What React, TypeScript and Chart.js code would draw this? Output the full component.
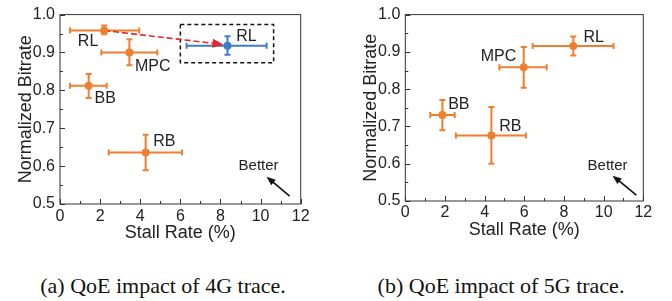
import React, { useEffect, useRef } from 'react';
import { Chart, registerables } from 'chart.js';

Chart.register(...registerables);

// ---------- data ----------
const methods = ['RL', 'MPC', 'BB', 'RB'];

// (a) 4G trace
const stall4G = [2.2, 3.46, 1.43, 4.27];
const stall4GLow = [0.5, 2.06, 0.5, 2.43];
const stall4GHigh = [3.95, 4.85, 2.33, 6.08];
const bitrate4G = [0.958, 0.9, 0.812, 0.636];
const bitrate4GLow = [0.948, 0.866, 0.78, 0.589];
const bitrate4GHigh = [0.971, 0.935, 0.843, 0.683];

// improved RL on 4G (blue)
const stallRLNew = [8.35];
const stallRLNewLow = [6.31];
const stallRLNewHigh = [10.3];
const bitrateRLNew = [0.918];
const bitrateRLNewLow = [0.894];
const bitrateRLNewHigh = [0.943];

// (b) 5G trace
const stall5G = [8.47, 5.97, 1.87, 4.34];
const stall5GLow = [6.42, 4.74, 1.26, 2.55];
const stall5GHigh = [10.5, 7.13, 2.49, 6.08];
const bitrate5G = [0.916, 0.859, 0.731, 0.676];
const bitrate5GLow = [0.89, 0.804, 0.69, 0.6];
const bitrate5GHigh = [0.941, 0.913, 0.771, 0.752];

const xTicks = [0, 2, 4, 6, 8, 10, 12];
const yTicks = [0.5, 0.6, 0.7, 0.8, 0.9, 1.0];

const captions = ['(a) QoE impact of 4G trace.', '(b) QoE impact of 5G trace.'];

// annotation anchors in data units
const labels4G = [
  { text: 'RL', x: 1.4, y: 0.93 },
  { text: 'MPC', x: 4.62, y: 0.864 },
  { text: 'BB', x: 2.25, y: 0.777 },
  { text: 'RB', x: 5.2, y: 0.664 },
  { text: 'RL', x: 9.3, y: 0.941 },
];
const labels5G = [
  { text: 'RL', x: 9.5, y: 0.938 },
  { text: 'MPC', x: 4.7, y: 0.888 },
  { text: 'BB', x: 2.7, y: 0.758 },
  { text: 'RB', x: 5.3, y: 0.7 },
];

const ORANGE = '#EF7F2F';
const BLUE = '#3A7DC8';
const RED = '#E3262B';
const TEXT = '#222222';
const AXIS = '#333333';
const SANS = "'Liberation Sans', Arial, sans-serif";

function drawArrowHead(ctx, x0, y0, x1, y1, len, wid, color) {
  const ang = Math.atan2(y1 - y0, x1 - x0);
  ctx.save();
  ctx.translate(x1, y1);
  ctx.rotate(ang);
  ctx.fillStyle = color;
  ctx.beginPath();
  ctx.moveTo(0, 0);
  ctx.lineTo(-len, -wid / 2);
  ctx.lineTo(-len, wid / 2);
  ctx.closePath();
  ctx.fill();
  ctx.restore();
}

const decorPlugin = {
  id: 'decor',
  beforeDatasetsDraw(chart, _args, opts) {
    const { ctx, scales } = chart;
    const x = scales.x;
    const y = scales.y;
    const X = (v) => x.getPixelForValue(v);
    const Y = (v) => y.getPixelForValue(v);
    const cap = 3;

    // error bars
    (opts.series || []).forEach((s) => {
      ctx.save();
      ctx.strokeStyle = s.color;
      ctx.lineWidth = 2;
      s.x.forEach((xv, i) => {
        const px = X(xv);
        const py = Y(s.y[i]);
        const xl = X(s.xLo[i]);
        const xh = X(s.xHi[i]);
        const yl = Y(s.yLo[i]);
        const yh = Y(s.yHi[i]);
        ctx.beginPath();
        ctx.moveTo(xl, py); ctx.lineTo(xh, py);
        ctx.moveTo(xl, py - cap); ctx.lineTo(xl, py + cap);
        ctx.moveTo(xh, py - cap); ctx.lineTo(xh, py + cap);
        ctx.moveTo(px, yl); ctx.lineTo(px, yh);
        ctx.moveTo(px - cap, yl); ctx.lineTo(px + cap, yl);
        ctx.moveTo(px - cap, yh); ctx.lineTo(px + cap, yh);
        ctx.stroke();
      });
      ctx.restore();
    });

    // dashed box
    if (opts.box) {
      const b = opts.box;
      ctx.save();
      ctx.strokeStyle = '#111';
      ctx.lineWidth = 1.5;
      ctx.setLineDash([4, 3]);
      ctx.strokeRect(X(b.x0), Y(b.y1), X(b.x1) - X(b.x0), Y(b.y0) - Y(b.y1));
      ctx.restore();
    }

    // red dashed arrow
    if (opts.redArrow) {
      const r = opts.redArrow;
      const x0 = X(r.x0), y0 = Y(r.y0), x1 = X(r.x1), y1 = Y(r.y1);
      const ang = Math.atan2(y1 - y0, x1 - x0);
      const headLen = 11;
      ctx.save();
      ctx.strokeStyle = RED;
      ctx.lineWidth = 1.6;
      ctx.setLineDash([6, 3]);
      ctx.beginPath();
      ctx.moveTo(x0, y0);
      ctx.lineTo(x1 - Math.cos(ang) * headLen * 0.8, y1 - Math.sin(ang) * headLen * 0.8);
      ctx.stroke();
      ctx.restore();
      drawArrowHead(ctx, x0, y0, x1, y1, headLen, 9, RED);
    }

    // "Better" arrow
    if (opts.better) {
      const bt = opts.better;
      const x0 = X(bt.ax0), y0 = Y(bt.ay0), x1 = X(bt.ax1), y1 = Y(bt.ay1);
      const ang = Math.atan2(y1 - y0, x1 - x0);
      ctx.save();
      ctx.strokeStyle = '#111';
      ctx.lineWidth = 1.6;
      ctx.beginPath();
      ctx.moveTo(x0, y0);
      ctx.lineTo(x1 - Math.cos(ang) * 6, y1 - Math.sin(ang) * 6);
      ctx.stroke();
      ctx.restore();
      drawArrowHead(ctx, x0, y0, x1, y1, 9, 7, '#111');
      ctx.save();
      ctx.fillStyle = TEXT;
      ctx.font = `15px ${SANS}`;
      ctx.textAlign = 'center';
      ctx.textBaseline = 'middle';
      ctx.fillText('Better', X(bt.tx), Y(bt.ty));
      ctx.restore();
    }

    // text labels
    ctx.save();
    ctx.fillStyle = TEXT;
    ctx.font = `16px ${SANS}`;
    ctx.textAlign = 'center';
    ctx.textBaseline = 'middle';
    (opts.labels || []).forEach((l) => ctx.fillText(l.text, X(l.x), Y(l.y)));
    ctx.restore();
  },
  afterDraw(chart) {
    const { ctx, chartArea: a, scales } = chart;
    const x = scales.x;
    const y = scales.y;
    ctx.save();
    ctx.strokeStyle = AXIS;
    ctx.lineWidth = 1;
    ctx.strokeRect(a.left, a.top, a.right - a.left, a.bottom - a.top);
    ctx.beginPath();
    for (let v = 0; v <= 12; v += 1) {
      const px = Math.round(x.getPixelForValue(v)) + 0.5;
      const len = v % 2 === 0 ? 5 : 3;
      ctx.moveTo(px, a.bottom);
      ctx.lineTo(px, a.bottom - len);
    }
    for (let k = 0; k <= 10; k += 1) {
      const v = 0.5 + k * 0.05;
      const py = Math.round(y.getPixelForValue(v)) + 0.5;
      const len = k % 2 === 0 ? 5 : 3;
      ctx.moveTo(a.left, py);
      ctx.lineTo(a.left + len, py);
    }
    ctx.stroke();
    ctx.restore();
  },
};

function Panel({ cfg }) {
  const ref = useRef(null);
  useEffect(() => {
    const datasets = cfg.series.map((s) => ({
      data: s.x.map((v, i) => ({ x: v, y: s.y[i] })),
      backgroundColor: s.color,
      borderColor: s.color,
      pointRadius: 4,
      pointBorderWidth: 0,
      pointHoverRadius: 4,
    }));
    const chart = new Chart(ref.current, {
      type: 'scatter',
      data: { labels: methods, datasets },
      plugins: [decorPlugin],
      options: {
        responsive: false,
        animation: false,
        events: [],
        devicePixelRatio: 1,
        layout: { padding: cfg.padding },
        plugins: {
          legend: { display: false },
          tooltip: { enabled: false },
          decor: {
            series: cfg.series,
            labels: cfg.labels,
            box: cfg.box,
            redArrow: cfg.redArrow,
            better: cfg.better,
          },
        },
        scales: {
          x: {
            type: 'linear',
            min: 0,
            max: 12,
            afterBuildTicks: (s) => { s.ticks = xTicks.map((v) => ({ value: v })); },
            afterFit: (s) => { s.height = cfg.xAxisHeight; },
            grid: { display: false, drawTicks: false },
            border: { display: false },
            ticks: { color: TEXT, font: { family: SANS, size: 16 }, padding: cfg.xTickPad, maxRotation: 0 },
            title: {
              display: true,
              text: 'Stall Rate (%)',
              color: TEXT,
              font: { family: SANS, size: 18 },
              padding: { top: 0, bottom: cfg.xTitlePad },
            },
          },
          y: {
            type: 'linear',
            min: 0.5,
            max: 1.0,
            afterBuildTicks: (s) => { s.ticks = yTicks.map((v) => ({ value: v })); },
            afterFit: (s) => { s.width = cfg.yAxisWidth; },
            grid: { display: false, drawTicks: false },
            border: { display: false },
            ticks: {
              color: TEXT,
              font: { family: SANS, size: 16 },
              padding: 5,
              callback: (v) => Number(v).toFixed(1),
            },
            title: {
              display: true,
              text: 'Normalized Bitrate',
              color: TEXT,
              font: { family: SANS, size: 18 },
              padding: { top: cfg.yTitlePad, bottom: 0 },
            },
          },
        },
      },
    });
    return () => chart.destroy();
  }, [cfg]);
  return <canvas ref={ref} width={336} height={250} style={{ display: 'block', width: 336, height: 250 }} />;
}

const cfg4G = {
  series: [
    { color: ORANGE, x: stall4G, xLo: stall4GLow, xHi: stall4GHigh, y: bitrate4G, yLo: bitrate4GLow, yHi: bitrate4GHigh },
    { color: BLUE, x: stallRLNew, xLo: stallRLNewLow, xHi: stallRLNewHigh, y: bitrateRLNew, yLo: bitrateRLNewLow, yHi: bitrateRLNewHigh },
  ],
  labels: labels4G,
  box: { x0: 6.0, x1: 10.65, y0: 0.873, y1: 0.974 },
  redArrow: { x0: stall4G[0], y0: bitrate4G[0], x1: 8.15, y1: 0.921 },
  better: { tx: 9.9, ty: 0.6, ax0: 11.45, ay0: 0.521, ax1: 10.3, ay1: 0.572 },
  padding: { top: 12.7, right: 35.3, left: 0, bottom: 0 },
  xAxisHeight: 46,
  yAxisWidth: 60,
  xTickPad: 3,
  xTitlePad: 6,
  yTitlePad: 15,
};

const cfg5G = {
  series: [
    { color: ORANGE, x: stall5G, xLo: stall5GLow, xHi: stall5GHigh, y: bitrate5G, yLo: bitrate5GLow, yHi: bitrate5GHigh },
  ],
  labels: labels5G,
  box: null,
  redArrow: null,
  better: { tx: 10.2, ty: 0.593, ax0: 11.65, ay0: 0.516, ax1: 10.45, ay1: 0.568 },
  padding: { top: 8.3, right: 28.7, left: 0, bottom: 0 },
  xAxisHeight: 49,
  yAxisWidth: 69.3,
  xTickPad: 2,
  xTitlePad: 9,
  yTitlePad: 24.5,
};

export default function App() {
  return (
    <div style={{ position: 'fixed', left: 0, top: 0, width: 672, height: 301, background: '#fff', overflow: 'hidden' }}>
      <div style={{ position: 'absolute', left: 0, top: 0 }}>
        <Panel cfg={cfg4G} />
      </div>
      <div style={{ position: 'absolute', left: 336, top: 0 }}>
        <Panel cfg={cfg5G} />
      </div>
      {captions.map((c, i) => (
        <div
          key={i}
          style={{
            position: 'absolute',
            left: i === 0 ? 0 : 336,
            width: 336,
            top: 272,
            textAlign: 'center',
            fontFamily: "'Liberation Serif', 'Times New Roman', serif",
            fontSize: 22,
            lineHeight: '28px',
            color: '#111',
            whiteSpace: 'nowrap',
          }}
        >
          <span style={{ position: 'relative', left: i === 0 ? -5 : -3 }}>{c}</span>
        </div>
      ))}
    </div>
  );
}
